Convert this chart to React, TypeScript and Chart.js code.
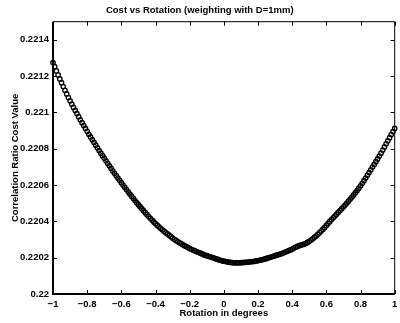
import React, { useEffect, useRef } from "react";
import { Chart, registerables } from "chart.js";

Chart.register(...registerables);

// ---- data ----
const ROTATION_START = -1; // degrees, first sample
const ROTATION_STEP = 0.01; // degrees between samples

const COST_VALUES = [
  0.221275, 0.221252, 0.221229, 0.221207, 0.221185, 0.221164, 0.221143, 0.221122, 0.221102, 0.221082,
  0.221064, 0.221046, 0.221028, 0.221011, 0.220994, 0.220977, 0.22096, 0.220944, 0.220928, 0.220912,
  0.220896, 0.22088, 0.220865, 0.22085, 0.220835, 0.22082, 0.220805, 0.22079, 0.220776, 0.220762,
  0.220748, 0.220734, 0.22072, 0.220706, 0.220692, 0.220678, 0.220665, 0.220652, 0.220639, 0.220626,
  0.220613, 0.2206, 0.220588, 0.220575, 0.220563, 0.220551, 0.220539, 0.220527, 0.220515, 0.220503,
  0.220492, 0.220481, 0.22047, 0.220459, 0.220448, 0.220437, 0.220427, 0.220417, 0.220407, 0.220397,
  0.220388, 0.220379, 0.22037, 0.220362, 0.220354, 0.220346, 0.220338, 0.220331, 0.220324, 0.220316,
  0.220308, 0.220301, 0.220295, 0.220289, 0.220283, 0.220277, 0.220271, 0.220266, 0.220261, 0.220256,
  0.220251, 0.220246, 0.220242, 0.220238, 0.220234, 0.22023, 0.220226, 0.220222, 0.220218, 0.220214,
  0.220211, 0.220208, 0.220205, 0.220202, 0.220199, 0.220195, 0.220192, 0.220189, 0.220186, 0.220183,
  0.220181, 0.220179, 0.220177, 0.220175, 0.220174, 0.220173, 0.220172, 0.220172, 0.220172, 0.220172,
  0.220173, 0.220173, 0.220174, 0.220175, 0.220176, 0.220177, 0.220178, 0.220179, 0.22018, 0.220182,
  0.220184, 0.220186, 0.220188, 0.22019, 0.220193, 0.220196, 0.220199, 0.220202, 0.220205, 0.220208,
  0.220211, 0.220214, 0.220217, 0.22022, 0.220223, 0.220227, 0.220231, 0.220235, 0.220239, 0.220243,
  0.220248, 0.220253, 0.220258, 0.220262, 0.220266, 0.220269, 0.220272, 0.220275, 0.220279, 0.220284,
  0.22029, 0.220297, 0.220304, 0.220312, 0.22032, 0.220329, 0.220338, 0.220347, 0.220357, 0.220367,
  0.220378, 0.220389, 0.2204, 0.22041, 0.22042, 0.22043, 0.22044, 0.22045, 0.22046, 0.22047,
  0.22048, 0.22049, 0.220501, 0.220512, 0.220523, 0.220534, 0.220546, 0.220558, 0.22057, 0.220583,
  0.220596, 0.22061, 0.220624, 0.220639, 0.220654, 0.220669, 0.220684, 0.220699, 0.220714, 0.220729,
  0.220744, 0.22076, 0.220776, 0.220793, 0.22081, 0.220827, 0.220844, 0.220861, 0.220878, 0.220895,
  0.220912,
];

const X_TICKS = [-1, -0.8, -0.6, -0.4, -0.2, 0, 0.2, 0.4, 0.6, 0.8, 1];
const X_TICK_LABELS = ["\u22121", "\u22120.8", "\u22120.6", "\u22120.4", "\u22120.2", "0", "0.2", "0.4", "0.6", "0.8", "1"];
const Y_TICKS = [0.22, 0.2202, 0.2204, 0.2206, 0.2208, 0.221, 0.2212, 0.2214];
const Y_TICK_LABELS = ["0.22", "0.2202", "0.2204", "0.2206", "0.2208", "0.221", "0.2212", "0.2214"];
const X_MIN = -1;
const X_MAX = 1;
const Y_MIN = 0.22;
const Y_MAX = 0.2215;

const TITLE = "Cost vs Rotation (weighting with D=1mm)";
const X_TITLE = "Rotation in degrees";
const Y_TITLE = "Correlation Ratio Cost Value";

const FONT_FAMILY = "'Liberation Sans', Arial, Helvetica, sans-serif";
const FONT = { family: FONT_FAMILY, size: 9.5, weight: "bold" as const };

const matlabAxes = {
  id: "matlabAxes",
  afterDatasetsDraw(chart: any) {
    const { ctx, chartArea, scales } = chart;
    const { left, right, top, bottom } = chartArea;
    const xs = scales.x;
    const ys = scales.y;
    const TL = 4;
    ctx.save();
    ctx.strokeStyle = "#000";
    ctx.lineWidth = 1;
    ctx.beginPath();
    X_TICKS.forEach((v) => {
      const px = Math.round(xs.getPixelForValue(v)) + 0.5;
      ctx.moveTo(px, bottom);
      ctx.lineTo(px, bottom - TL);
      ctx.moveTo(px, top);
      ctx.lineTo(px, top + TL);
    });
    Y_TICKS.forEach((v) => {
      const py = Math.round(ys.getPixelForValue(v)) + 0.5;
      ctx.moveTo(left, py);
      ctx.lineTo(left + TL, py);
      ctx.moveTo(right, py);
      ctx.lineTo(right - TL, py);
    });
    ctx.stroke();
    // top & right box edges
    ctx.beginPath();
    ctx.moveTo(left, top);
    ctx.lineTo(right, top);
    ctx.lineTo(right, bottom);
    ctx.stroke();
    // left & bottom axes (heavier)
    ctx.lineWidth = 2;
    ctx.beginPath();
    ctx.moveTo(left, top);
    ctx.lineTo(left, bottom);
    ctx.lineTo(right, bottom);
    ctx.stroke();
    ctx.restore();
  },
};

export default function App() {
  const canvasRef = useRef<HTMLCanvasElement | null>(null);

  useEffect(() => {
    document.body.style.margin = "0";
    const canvas = canvasRef.current;
    if (!canvas) return;
    const points = COST_VALUES.map((v, i) => ({
      x: Math.round((ROTATION_START + i * ROTATION_STEP) * 100) / 100,
      y: v,
    }));
    const chart = new Chart(canvas, {
      type: "scatter",
      data: {
        datasets: [
          {
            data: points,
            showLine: false,
            pointStyle: "circle",
            pointRadius: 2.2,
            pointBorderWidth: 1.3,
            pointBorderColor: "#000",
            pointBackgroundColor: "rgba(0,0,0,0)",
            clip: false as any,
          },
        ],
      },
      options: {
        responsive: false,
        animation: false,
        devicePixelRatio: 1,
        layout: { padding: { left: 0, right: 0.5, top: 0, bottom: 0 } },
        plugins: {
          legend: { display: false },
          tooltip: { enabled: false },
          title: {
            display: true,
            text: TITLE,
            color: "#000",
            font: FONT,
            padding: { top: 4.3, bottom: 6 },
          },
        },
        scales: {
          x: {
            type: "linear",
            min: X_MIN,
            max: X_MAX,
            grid: { display: false, drawTicks: false },
            border: { display: false },
            afterBuildTicks: (s: any) => {
              s.ticks = X_TICKS.map((v) => ({ value: v }));
            },
            afterFit: (s: any) => {
              s.height = 29;
              s.paddingLeft = 0;
              s.paddingRight = 0;
            },
            ticks: {
              color: "#000",
              font: FONT,
              padding: 4.5,
              autoSkip: false,
              maxRotation: 0,
              callback: (_v: any, i: number) => X_TICK_LABELS[i],
            },
            title: {
              display: true,
              text: X_TITLE,
              color: "#000",
              font: FONT,
              padding: { top: 0, bottom: 3.5 },
            },
          },
          y: {
            type: "linear",
            min: Y_MIN,
            max: Y_MAX,
            grid: { display: false, drawTicks: false },
            border: { display: false },
            afterBuildTicks: (s: any) => {
              s.ticks = Y_TICKS.map((v) => ({ value: v }));
            },
            afterFit: (s: any) => {
              s.width = 53;
              s.paddingTop = 0;
              s.paddingBottom = 0;
            },
            ticks: {
              color: "#000",
              font: FONT,
              padding: 4,
              autoSkip: false,
              callback: (_v: any, i: number) => Y_TICK_LABELS[i],
            },
            title: {
              display: true,
              text: Y_TITLE,
              color: "#000",
              font: FONT,
              padding: { top: 9.5, bottom: 0 },
            },
          },
        },
      },
      plugins: [matlabAxes],
    });
    return () => chart.destroy();
  }, []);

  return (
    <div style={{ width: 400, height: 323, background: "#fff" }}>
      <canvas ref={canvasRef} width={400} height={323} style={{ display: "block" }} />
    </div>
  );
}
